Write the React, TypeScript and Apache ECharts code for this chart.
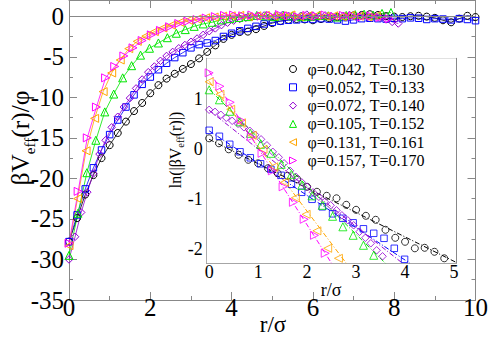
import React, { useEffect, useRef } from 'react';
import * as echarts from 'echarts';

const seriesNames = [
  'φ=0.042, T=0.130',
  'φ=0.052, T=0.133',
  'φ=0.072, T=0.140',
  'φ=0.105, T=0.152',
  'φ=0.131, T=0.161',
  'φ=0.157, T=0.170',
];
const seriesColors = ['#000000', '#0000ff', '#9400d3', '#00e600', '#ffa500', '#ff00ff'];
const seriesSymbols = [
  'circle',
  'rect',
  'diamond',
  'triangle',
  'path://M10,0L0,5L10,10Z',
  'path://M0,0L10,5L0,10Z',
];
const symbolSizes = [7, 6.5, 7.5, 8, 8, 8];

// main panel: r/sigma vs beta*V_eff/phi
const mainBlack = [[0,-27.8],[0.2,-24.9],[0.4,-22.0],[0.6,-19.6],[0.8,-17.5],[1.0,-15.9],[1.2,-14.4],[1.4,-13.0],[1.6,-11.7],[1.8,-10.7],[2.0,-9.5],[2.2,-8.5],[2.4,-7.7],[2.6,-7.1],[2.8,-6.5],[3.0,-5.9],[3.2,-5.2],[3.4,-4.4],[3.6,-3.6],[3.8,-2.8],[4.0,-2.3],[4.2,-1.95],[4.4,-1.9],[4.6,-1.6],[4.8,-1.2],[5.0,-0.85],[5.2,-0.6],[5.4,-0.45],[5.6,-0.35],[5.8,-0.4],[6.0,-0.5],[6.2,-0.35],[6.4,-0.25],[6.6,-0.1],[6.8,-0.05],[7.0,0.1],[7.2,0.15],[7.4,0.25],[7.6,0.15],[7.8,0.0],[8.0,-0.05],[8.2,-0.1],[8.4,0.0],[8.6,0.05],[8.8,-0.05],[9.0,-0.2],[9.2,-0.5],[9.4,-0.75],[9.6,-0.3],[9.8,0.05],[10.0,-0.1]];
const mainBlue = [[0,-27.8],[0.2,-24.5],[0.4,-21.3],[0.6,-18.7],[0.8,-16.5],[1.0,-14.6],[1.2,-12.8],[1.4,-11.2],[1.6,-9.7],[1.8,-8.4],[2.0,-7.5],[2.2,-6.6],[2.4,-5.8],[2.6,-5.1],[2.8,-4.5],[3.0,-3.9],[3.2,-3.5],[3.4,-3.3],[3.6,-3.0],[3.8,-2.5],[4.0,-2.1],[4.2,-1.8],[4.4,-1.5],[4.6,-1.25],[4.8,-0.95],[5.0,-0.75],[5.2,-0.6],[5.4,-0.5],[5.6,-0.45],[5.8,-0.35],[6.0,-0.4],[6.2,-0.3],[6.4,-0.35],[6.6,-0.45],[6.8,-0.6],[7.0,-0.45],[7.2,-0.3],[7.4,-0.25],[7.6,-0.3],[7.8,-0.35],[8.0,-0.25],[8.2,-0.3],[8.4,-0.2],[8.6,-0.25],[8.8,-0.4],[9.0,-0.3],[9.2,-0.35],[9.4,-0.45],[9.6,-0.3],[9.8,-0.4],[10.0,-0.55]];
const mainPurple = [[0,-30.0],[0.15,-27.2],[0.3,-24.2],[0.45,-21.7],[0.6,-19.4],[0.75,-17.0],[0.9,-15.3],[1.05,-13.7],[1.2,-12.4],[1.35,-11.2],[1.5,-10.1],[1.65,-8.9],[1.8,-7.8],[1.95,-6.9],[2.1,-6.2],[2.25,-5.5],[2.4,-4.9],[2.55,-4.4],[2.7,-3.95],[2.85,-3.55],[3.0,-3.15],[3.15,-2.75],[3.3,-2.3],[3.45,-1.85],[3.6,-1.5],[3.75,-1.1],[3.9,-0.8],[4.05,-0.55],[4.2,-0.35],[4.35,-0.2],[4.5,-0.1],[4.65,0.05],[4.8,0.1],[4.95,-0.05],[5.1,0.0],[5.25,0.15],[5.4,0.05],[5.55,-0.1],[5.7,0.05],[5.85,0.2],[6.0,0.1],[6.15,-0.05],[6.3,0.1],[6.45,0.0],[6.6,-0.1],[6.75,0.05],[6.9,0.15],[7.05,-0.05],[7.2,0.1],[7.35,-0.1],[7.5,0.0],[7.65,-0.2],[7.8,-0.4],[7.95,-0.7],[8.1,-0.9]];
const mainGreen = [[0,-29.5],[0.22,-24.3],[0.44,-19.3],[0.66,-15.3],[0.88,-11.8],[1.1,-9.6],[1.32,-7.6],[1.54,-6.1],[1.76,-4.8],[1.98,-3.95],[2.2,-3.3],[2.42,-2.65],[2.64,-2.1],[2.86,-1.65],[3.08,-1.25],[3.3,-0.95],[3.52,-0.75],[3.74,-0.45],[3.96,-0.3],[4.18,-0.15],[4.4,-0.05],[4.62,0.1],[4.84,0.05],[5.06,-0.05],[5.28,0.1],[5.5,0.05],[5.72,-0.05],[5.94,0.0],[6.16,0.1],[6.38,0.05],[6.6,-0.1],[6.82,0.1],[7.04,0.2],[7.26,0.25],[7.48,0.15],[7.7,0.35],[7.92,0.45]];
const mainOrange = [[0,-28.3],[0.21,-22.5],[0.42,-16.6],[0.63,-12.6],[0.84,-9.3],[1.05,-7.0],[1.26,-5.4],[1.47,-4.0],[1.68,-3.1],[1.89,-2.45],[2.1,-1.9],[2.31,-1.45],[2.52,-1.1],[2.73,-0.75],[2.94,-0.5],[3.15,-0.35],[3.36,-0.2],[3.57,-0.1],[3.78,0.0],[3.99,0.05],[4.2,0.1],[4.41,-0.05],[4.62,0.05],[4.83,0.1],[5.04,0.0],[5.25,0.05],[5.46,0.15],[5.67,-0.05],[5.88,0.05],[6.09,0.1],[6.3,0.0],[6.51,0.05],[6.72,-0.05],[6.93,0.1],[7.14,0.0],[7.35,-0.1],[7.56,0.05]];
const mainPink = [[0,-28.0],[0.225,-21.6],[0.45,-15.0],[0.675,-11.2],[0.9,-7.6],[1.125,-6.2],[1.35,-4.9],[1.575,-3.9],[1.8,-3.0],[2.025,-2.3],[2.25,-1.75],[2.475,-1.3],[2.7,-0.9],[2.925,-0.62],[3.15,-0.42],[3.375,-0.22],[3.6,-0.05],[3.825,0.1],[4.05,0.15],[4.275,0.05],[4.5,0.15],[4.725,0.0],[4.95,0.1],[5.175,0.2],[5.4,0.05],[5.625,-0.05],[5.85,0.1],[6.075,0.0],[6.3,0.15],[6.525,-0.05],[6.75,0.1],[6.975,0.0],[7.2,-0.1],[7.425,0.05],[7.65,-0.15],[7.875,-0.3]];

// inset: r/sigma vs ln|beta*V_eff|
const insetBlack = [[0,0.22],[0.2,0.12],[0.4,0.0],[0.6,-0.11],[0.8,-0.21],[1.0,-0.28],[1.2,-0.38],[1.4,-0.48],[1.6,-0.53],[1.8,-0.6],[2.0,-0.75],[2.2,-0.85],[2.4,-0.93],[2.6,-0.98],[2.8,-1.11],[3.0,-1.21],[3.2,-1.33],[3.4,-1.41],[3.6,-1.61],[3.8,-1.77],[4.0,-1.85],[4.2,-1.98],[4.4,-1.97],[4.6,-2.05],[4.8,-2.18]];
const insetBlue = [[0,0.38],[0.21,0.26],[0.42,0.1],[0.63,-0.05],[0.84,-0.17],[1.05,-0.29],[1.26,-0.4],[1.47,-0.52],[1.68,-0.7],[1.89,-0.86],[2.1,-1.0],[2.31,-1.15],[2.52,-1.29],[2.73,-1.38],[2.94,-1.47],[3.15,-1.59],[3.36,-1.68],[3.57,-1.78],[3.78,-1.98],[3.99,-2.2]];
const insetPurple = [[0,0.79],[0.12,0.75],[0.24,0.69],[0.35,0.63],[0.47,0.57],[0.59,0.51],[0.71,0.44],[0.83,0.37],[0.94,0.29],[1.06,0.2],[1.18,0.08],[1.3,-0.05],[1.42,-0.16],[1.53,-0.28],[1.65,-0.43],[1.77,-0.55],[1.89,-0.66],[2.0,-0.75],[2.12,-0.86],[2.24,-0.95],[2.36,-1.05],[2.48,-1.12],[2.6,-1.22],[2.71,-1.32],[2.83,-1.42],[2.95,-1.52],[3.07,-1.65],[3.19,-1.77],[3.3,-1.88],[3.42,-2.02],[3.54,-2.14]];
const insetGreen = [[0,1.19],[0.21,0.99],[0.42,0.76],[0.63,0.55],[0.84,0.32],[1.05,0.1],[1.26,-0.08],[1.47,-0.3],[1.68,-0.5],[1.89,-0.72],[2.1,-0.93],[2.31,-1.12],[2.52,-1.34],[2.73,-1.55],[2.94,-1.72],[3.15,-1.92],[3.36,-2.12]];
const insetOrange = [[0,1.35],[0.22,1.1],[0.44,0.8],[0.66,0.53],[0.88,0.28],[1.1,0.0],[1.32,-0.35],[1.54,-0.66],[1.76,-0.97],[1.98,-1.3],[2.2,-1.63],[2.42,-1.98],[2.64,-2.18]];
const insetPink = [[0,1.53],[0.22,1.26],[0.43,0.94],[0.65,0.58],[0.86,0.25],[1.08,-0.08],[1.29,-0.43],[1.51,-0.75],[1.72,-1.06],[1.94,-1.4],[2.15,-1.72],[2.37,-2.08]];

// inset fitted lines (end points)
const fitBlack = [[0,0.2],[5.04,-2.26]];
const fitBlue = [[0,0.37],[4.1,-2.28]];
const fitPurple = [[0,0.78],[3.95,-2.28]];
const fitGreen = [[0,1.2],[3.6,-2.28]];
const fitOrange = [[0,1.36],[2.8,-2.28]];
const fitPink = [[0,1.56],[2.5,-2.28]];

const mainSets = [mainBlack, mainBlue, mainPurple, mainGreen, mainOrange, mainPink];
const insetSets = [insetBlack, insetBlue, insetPurple, insetGreen, insetOrange, insetPink];
const fitSets = [fitBlack, fitBlue, fitPurple, fitGreen, fitOrange, fitPink];

// ticks
const mainXMajor = [0, 2, 4, 6, 8, 10];
const mainXMinor = [1, 3, 5, 7, 9];
const mainYMajor = [-35, -30, -25, -20, -15, -10, -5, 0];
const mainYMinor = [-32.5, -27.5, -22.5, -17.5, -12.5, -7.5, -2.5];
const insetXMajor = [0, 1, 2, 3, 4, 5];
const insetXMinor = [0.5, 1.5, 2.5, 3.5, 4.5];
const insetYMajor = [-2, -1, 0, 1];
const insetYMinor = [-1.5, -0.5, 0.5, 1.5];

const FONT = "'Liberation Serif', 'Times New Roman', Times, serif";
const AXIS_GRAY = '#888888';

function makeAxes(
  gridIndex: number, min: number, max: number, major: number[], minor: number[],
  pos: [string, string], labelSize: number, labelMargin: number, majorLen: number, minorLen: number
) {
  const common: any = {
    type: 'value', gridIndex, min, max,
    splitLine: { show: false }, splitArea: { show: false },
    axisLine: { show: false, onZero: false },
    axisLabel: { show: false },
  };
  const tick = (vals: number[], len: number) => ({
    show: true, inside: true, length: len, customValues: vals,
    lineStyle: { color: AXIS_GRAY, width: 1 },
  });
  const line = { show: true, onZero: false, lineStyle: { color: AXIS_GRAY, width: 1 } };
  return [
    {
      ...common, position: pos[0], axisLine: line, axisTick: tick(major, majorLen),
      axisLabel: { show: true, customValues: major, margin: labelMargin, fontFamily: FONT, fontSize: labelSize, color: '#000' },
    },
    { ...common, position: pos[0], axisTick: tick(minor, minorLen) },
    { ...common, position: pos[1], axisLine: line, axisTick: tick(major, majorLen) },
    { ...common, position: pos[1], axisTick: tick(minor, minorLen) },
  ];
}

export default function App() {
  const ref = useRef<HTMLDivElement>(null);
  useEffect(() => {
    if (!ref.current) return;
    const chart = echarts.init(ref.current, undefined, { renderer: 'svg' });

    const series: any[] = [];
    mainSets.forEach((d, i) => {
      series.push({
        type: 'line', name: seriesNames[i], xAxisIndex: 0, yAxisIndex: 0, data: d,
        symbol: seriesSymbols[i], symbolSize: symbolSizes[i], showAllSymbol: true,
        itemStyle: { color: 'transparent', borderColor: seriesColors[i], borderWidth: 1 },
        lineStyle: { color: seriesColors[i], width: 0.8 },
        emphasis: { disabled: true },
        markLine: i === 0 ? {
          silent: true, symbol: 'none', label: { show: false },
          lineStyle: { color: AXIS_GRAY, type: 'solid', width: 1 },
          data: [{ yAxis: 0 }],
        } : undefined,
      });
    });
    fitSets.forEach((d, i) => {
      series.push({
        type: 'line', xAxisIndex: 4, yAxisIndex: 4, data: d, symbol: 'none',
        lineStyle: { color: seriesColors[i], width: 1, type: [5, 2, 1, 2] },
        emphasis: { disabled: true }, silent: true, z: 3,
      });
    });
    insetSets.forEach((d, i) => {
      series.push({
        type: 'scatter', name: seriesNames[i], xAxisIndex: 4, yAxisIndex: 4, data: d,
        symbol: seriesSymbols[i], symbolSize: symbolSizes[i],
        itemStyle: { color: 'transparent', borderColor: seriesColors[i], borderWidth: 1 },
        emphasis: { disabled: true }, z: 4,
      });
    });

    chart.setOption({
      animation: false,
      textStyle: { fontFamily: FONT },
      grid: [
        { left: 69, top: 0, width: 408, height: 300, show: false },
        { left: 206.7, top: 58.3, width: 249.3, height: 205, show: true, backgroundColor: '#ffffff', borderWidth: 0, z: 1 },
      ],
      xAxis: [
        ...makeAxes(0, 0, 10, mainXMajor, mainXMinor, ['bottom', 'top'], 25, -5, 8, 4),
        ...makeAxes(1, -0.05, 5.04, insetXMajor, insetXMinor, ['bottom', 'top'], 18, 0, 6, 3),
      ],
      yAxis: [
        ...makeAxes(0, -35, 2, mainYMajor, mainYMinor, ['left', 'right'], 25, 5, 8, 4),
        ...makeAxes(1, -2.28, 1.82, insetYMajor, insetYMinor, ['left', 'right'], 18, 4, 6, 3),
      ],
      legend: {
        orient: 'vertical', left: 289, top: 61, padding: 0, itemGap: 2.3,
        itemWidth: 7, itemHeight: 7, selectedMode: false,
        textStyle: { fontFamily: FONT, fontSize: 16, color: '#000', padding: [0, 0, 0, 6] },
        data: seriesNames.map((n, i) => ({
          name: n, icon: seriesSymbols[i],
          itemStyle: { color: 'transparent', borderColor: seriesColors[i], borderWidth: 1 },
        })),
      },
      graphic: [
        {
          type: 'text', x: 20, y: 138, rotation: Math.PI / 2,
          style: {
            text: '{a|βV}{s|eff}{a|(r)/φ}',
            rich: {
              a: { fontFamily: FONT, fontSize: 25.5, lineHeight: 34, fill: '#000', color: '#000' },
              s: { fontFamily: FONT, fontSize: 15, lineHeight: 16, verticalAlign: 'bottom', fill: '#000', color: '#000' },
            },
            align: 'center', verticalAlign: 'middle',
          },
        },
        {
          type: 'text', x: 273, y: 324,
          style: { text: 'r/σ', fontFamily: FONT, fontSize: 23, fill: '#000', align: 'center', verticalAlign: 'middle' },
        },
        {
          type: 'text', x: 175, y: 150, rotation: Math.PI / 2, z: 10,
          style: {
            text: '{a|ln(|βV}{s|eff}{a|(r)|)}',
            rich: {
              a: { fontFamily: FONT, fontSize: 16, lineHeight: 22, fill: '#000', color: '#000' },
              s: { fontFamily: FONT, fontSize: 10.5, lineHeight: 11, verticalAlign: 'bottom', fill: '#000', color: '#000' },
            },
            align: 'center', verticalAlign: 'middle',
          },
        },
        {
          type: 'text', x: 331, y: 290, z: 10,
          style: { text: 'r/σ', fontFamily: FONT, fontSize: 18, fill: '#000', align: 'center', verticalAlign: 'middle' },
        },
      ],
      series,
    });
    return () => chart.dispose();
  }, []);
  return (
    <div
      ref={ref}
      style={{ position: 'fixed', left: 0, top: 0, width: 491, height: 337, background: '#fff' }}
    />
  );
}
